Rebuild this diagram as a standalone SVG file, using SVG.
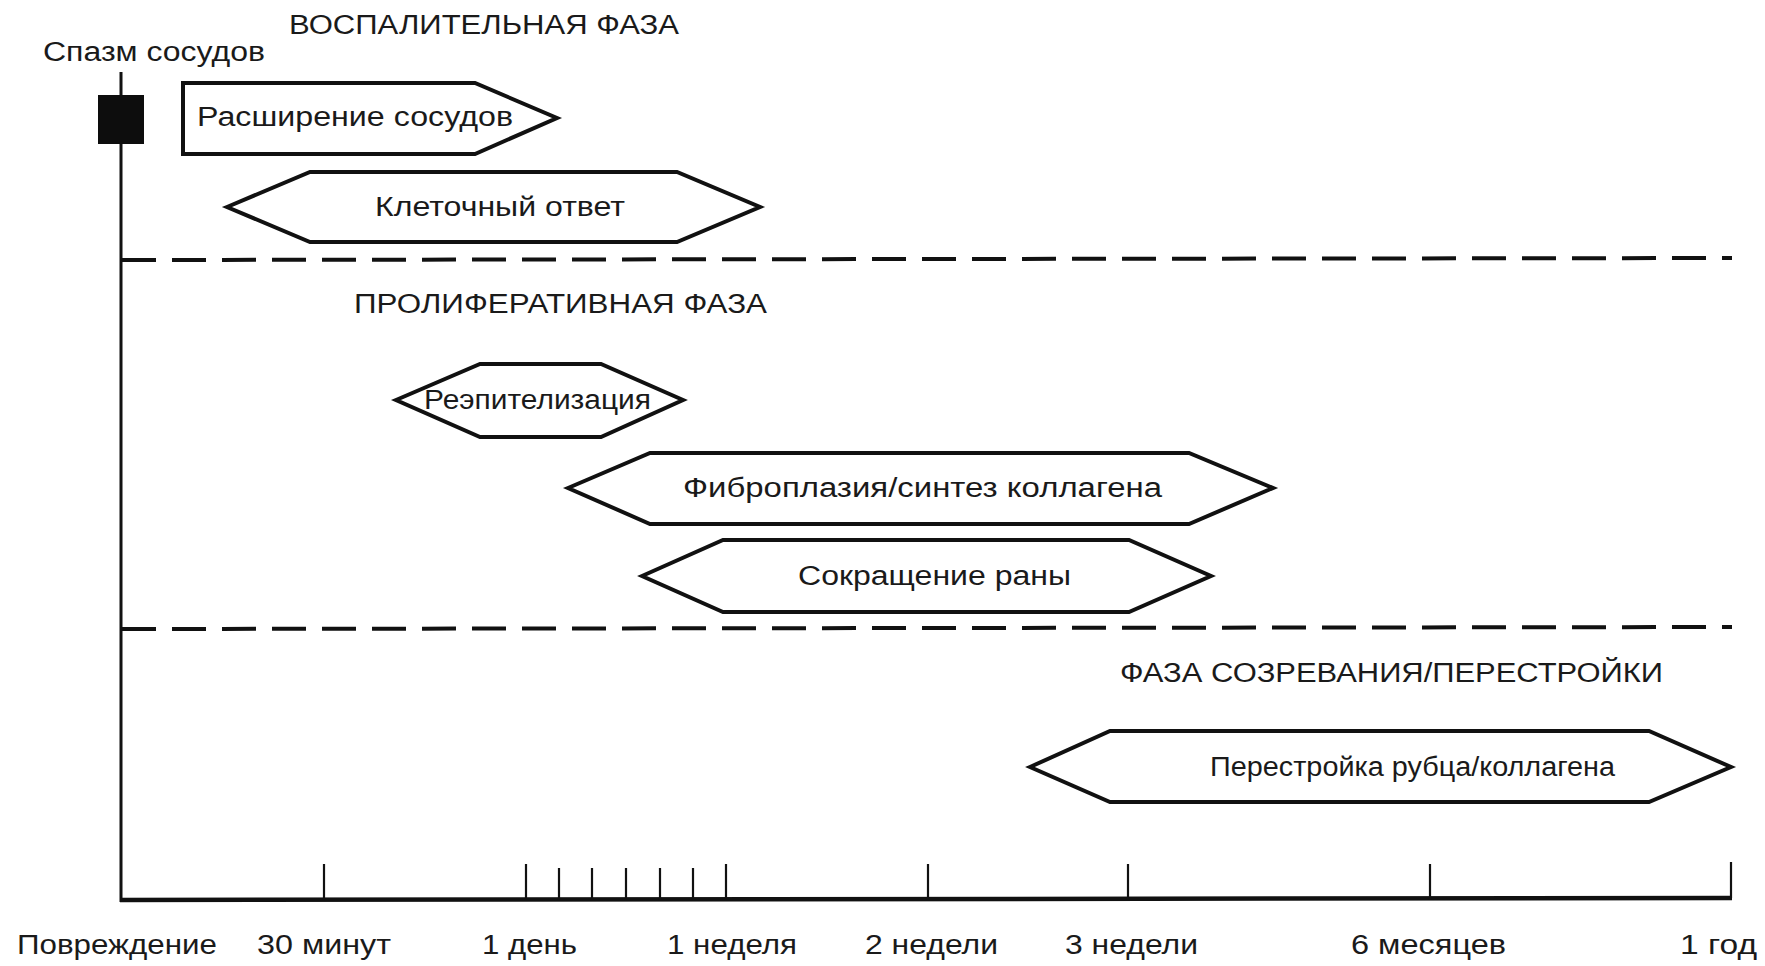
<svg xmlns="http://www.w3.org/2000/svg" width="1765" height="966" viewBox="0 0 1765 966">
<style>
text{font-family:"Liberation Sans","Arial",sans-serif;font-size:27px;fill:#1a1a1a}
.shape{fill:#fff;stroke:#111;stroke-width:4;stroke-linejoin:miter}
.axis{stroke:#111;fill:none}
.dash{stroke:#111;stroke-width:4;stroke-dasharray:34 16;fill:none}
.tick{stroke:#111;stroke-width:2.2}
</style>
<rect width="1765" height="966" fill="#fff"/>
<g id="axes">
<line class="axis" x1="121" y1="72" x2="121" y2="902" stroke-width="3"/>
<line class="axis" x1="120" y1="900" x2="1732" y2="898" stroke-width="4.5"/>
<g id="ticks">
<line class="tick" x1="324" y1="864" x2="324" y2="900"/>
<line class="tick" x1="526" y1="864" x2="526" y2="900"/>
<line class="tick" x1="559" y1="868" x2="559" y2="900"/>
<line class="tick" x1="592" y1="868" x2="592" y2="900"/>
<line class="tick" x1="626" y1="868" x2="626" y2="900"/>
<line class="tick" x1="660" y1="868" x2="660" y2="900"/>
<line class="tick" x1="693" y1="868" x2="693" y2="900"/>
<line class="tick" x1="726" y1="864" x2="726" y2="900"/>
<line class="tick" x1="928" y1="864" x2="928" y2="900"/>
<line class="tick" x1="1128" y1="864" x2="1128" y2="900"/>
<line class="tick" x1="1430" y1="864" x2="1430" y2="900"/>
<line class="tick" x1="1731" y1="862" x2="1731" y2="898"/>
</g>
</g>
<g id="phase-dividers">
<line class="dash" x1="122" y1="260" x2="1732" y2="258"/>
<line class="dash" x1="122" y1="629" x2="1732" y2="627"/>
</g>
<g id="phase-labels">
<text x="289" y="34" textLength="390" lengthAdjust="spacingAndGlyphs">ВОСПАЛИТЕЛЬНАЯ ФАЗА</text>
<text x="354" y="313" textLength="413" lengthAdjust="spacingAndGlyphs">ПРОЛИФЕРАТИВНАЯ ФАЗА</text>
<text x="1120" y="682" textLength="543" lengthAdjust="spacingAndGlyphs">ФАЗА СОЗРЕВАНИЯ/ПЕРЕСТРОЙКИ</text>
</g>
<g id="vasospasm">
<text x="43" y="61" textLength="222" lengthAdjust="spacingAndGlyphs">Спазм сосудов</text>
<rect x="98" y="95" width="46" height="49" fill="#0d0d0d"/>
</g>
<g id="vasodilation">
<polygon class="shape" points="183,83 475,83 557,118 475,154 183,154"/>
<text x="197" y="126" textLength="316" lengthAdjust="spacingAndGlyphs">Расширение сосудов</text>
</g>
<g id="cellular-response">
<polygon class="shape" points="227,207 310,172 677,172 760,207 677,242 310,242"/>
<text x="375" y="216" textLength="250" lengthAdjust="spacingAndGlyphs">Клеточный ответ</text>
</g>
<g id="reepithelialization">
<polygon class="shape" points="396,400 480,364 601,364 683,400 601,437 480,437"/>
<text x="424" y="409" textLength="227" lengthAdjust="spacingAndGlyphs">Реэпителизация</text>
</g>
<g id="fibroplasia">
<polygon class="shape" points="568,488 650,453 1189,453 1273,488 1189,524 650,524"/>
<text x="683" y="497" textLength="479" lengthAdjust="spacingAndGlyphs">Фиброплазия/синтез коллагена</text>
</g>
<g id="contraction">
<polygon class="shape" points="642,576 723,540 1129,540 1211,576 1129,612 723,612"/>
<text x="798" y="585" textLength="273" lengthAdjust="spacingAndGlyphs">Сокращение раны</text>
</g>
<g id="remodeling">
<polygon class="shape" points="1030,767 1110,731 1649,731 1731,767 1649,802 1110,802"/>
<text x="1210" y="776" textLength="405" lengthAdjust="spacingAndGlyphs">Перестройка рубца/коллагена</text>
</g>
<g id="time-labels">
<text x="17" y="954" textLength="200" lengthAdjust="spacingAndGlyphs">Повреждение</text>
<text x="257" y="954" textLength="134" lengthAdjust="spacingAndGlyphs">30 минут</text>
<text x="482" y="954" textLength="95" lengthAdjust="spacingAndGlyphs">1 день</text>
<text x="667" y="954" textLength="130" lengthAdjust="spacingAndGlyphs">1 неделя</text>
<text x="865" y="954" textLength="133" lengthAdjust="spacingAndGlyphs">2 недели</text>
<text x="1065" y="954" textLength="133" lengthAdjust="spacingAndGlyphs">3 недели</text>
<text x="1351" y="954" textLength="155" lengthAdjust="spacingAndGlyphs">6 месяцев</text>
<text x="1680" y="954" textLength="77" lengthAdjust="spacingAndGlyphs">1 год</text>
</g>
</svg>
